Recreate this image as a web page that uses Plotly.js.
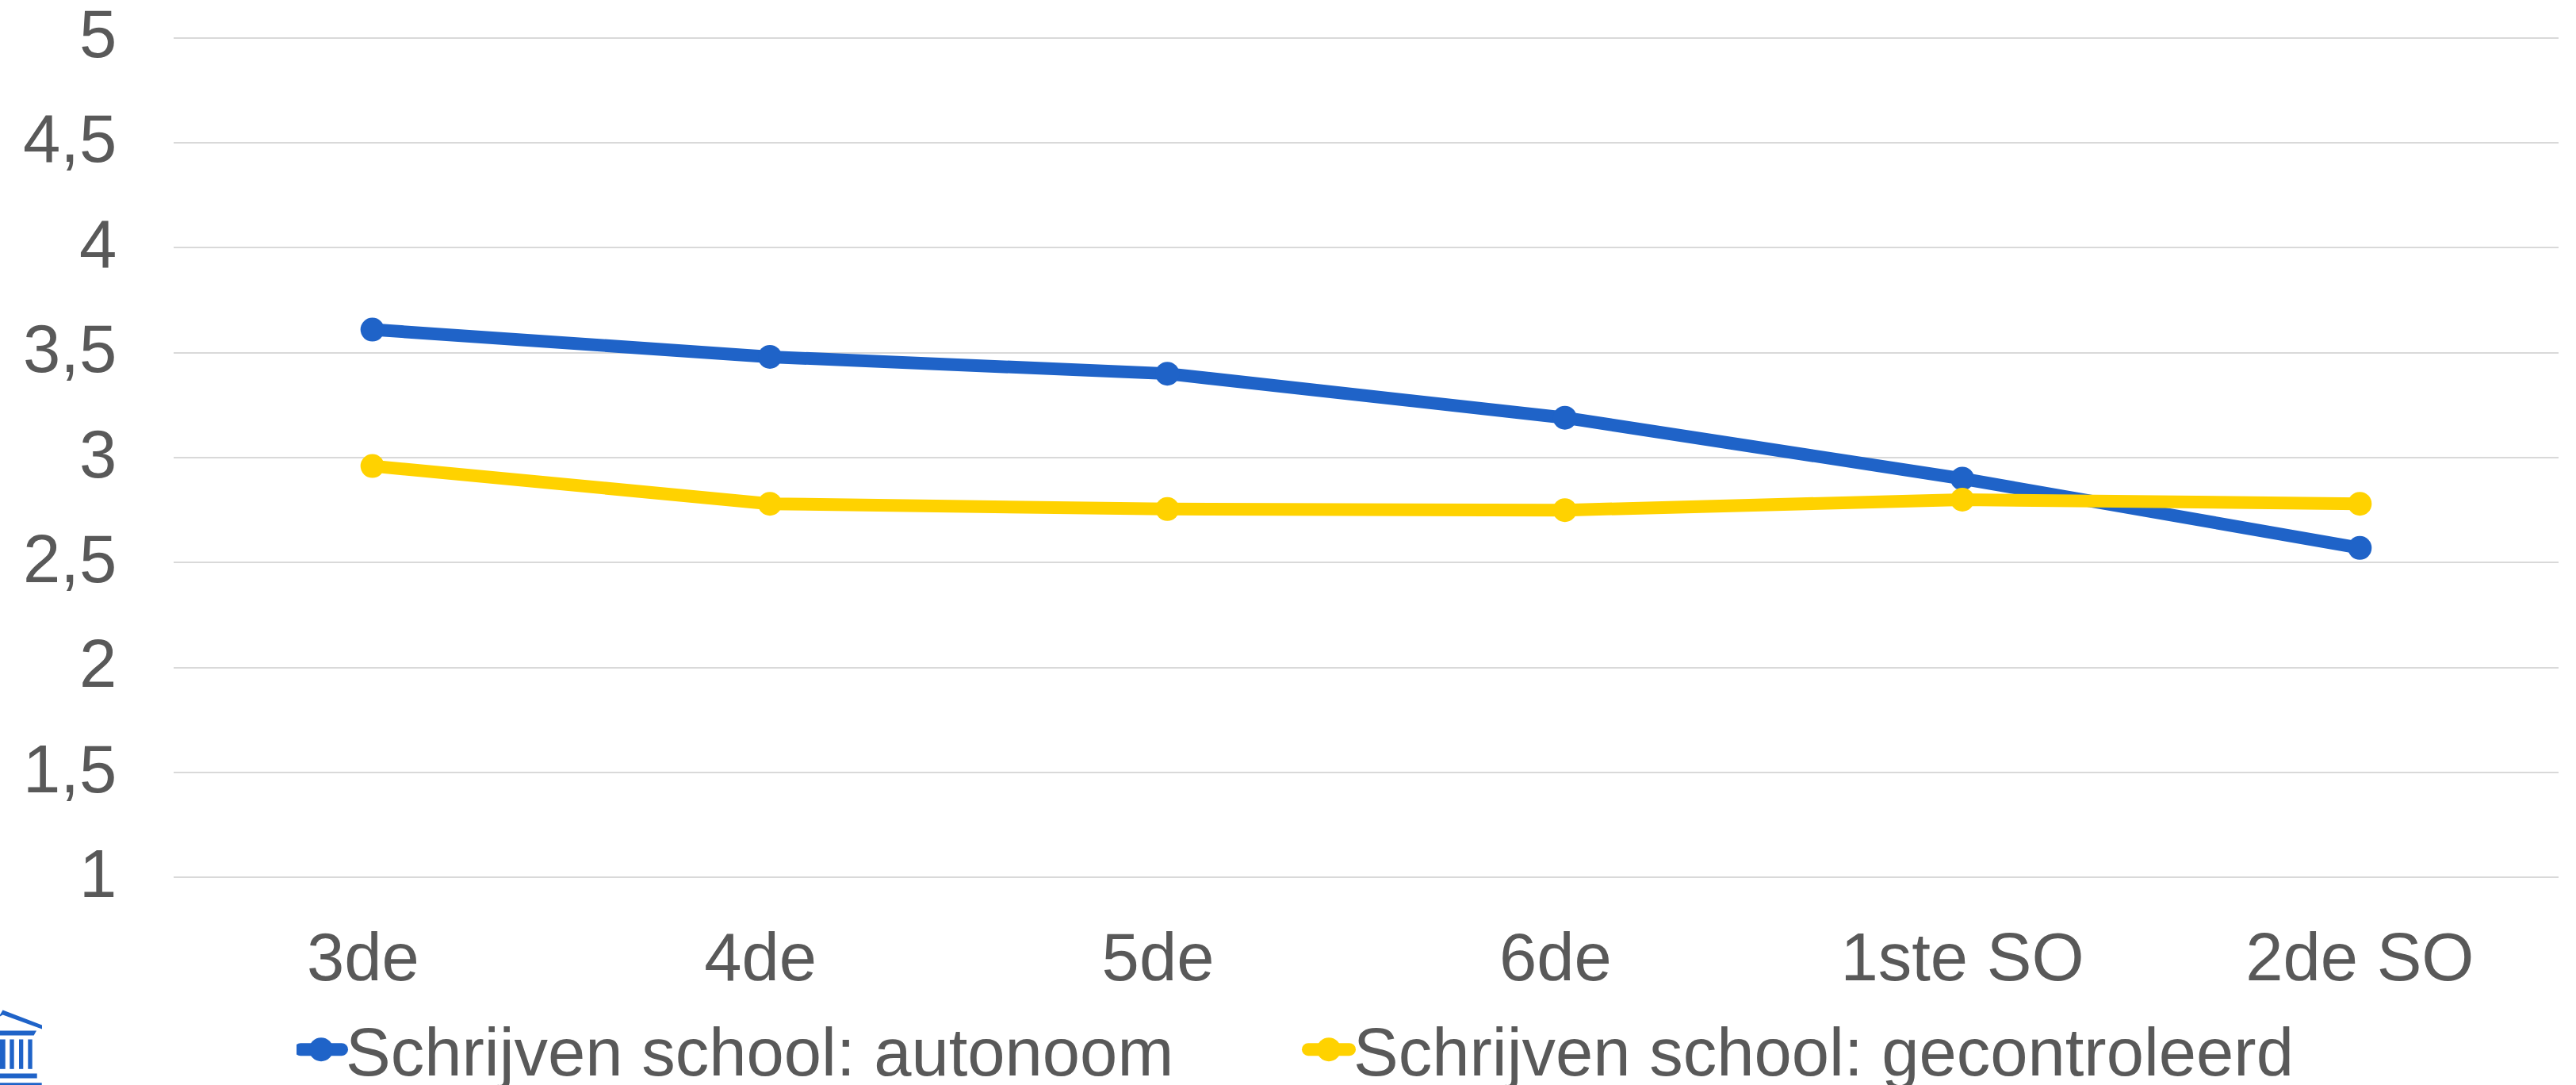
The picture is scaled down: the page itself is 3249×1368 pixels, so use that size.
<!DOCTYPE html>
<html><head><meta charset="utf-8">
<script src="https://cdn.plot.ly/plotly-3.0.1.min.js"></script>
<style>html,body{margin:0;padding:0;background:#fff;overflow:hidden}</style></head>
<body><div id="chart" style="width:3249px;height:1368px"></div>
<script>
const categories = ["3de","4de","5de","6de","1ste SO","2de SO"];
const xTickLabels = ["3de\u00A0","4de\u00A0","5de\u00A0","6de\u00A0","1ste SO","2de SO"];
const autonoom = [3.61,3.48,3.40,3.19,2.90,2.57];
const gecontroleerd = [2.96,2.78,2.755,2.75,2.80,2.78];
const yTicks = [1,1.5,2,2.5,3,3.5,4,4.5,5];
const yTickLabels = ["1","1,5","2","2,5","3","3,5","4","4,5","5"];
const seriesNames = ["Schrijven school: autonoom","Schrijven school: gecontroleerd"];
const colors = ["#1F63C8","#FFD200"];
const textColor = "#595959";
const font = "Liberation Sans, Arial, sans-serif";
const fs = 85;
const W=3249,H=1368,L=219,R=22,T=45.355,B=259.355;
const mk = (y,i)=>({type:"scatter",mode:"lines+markers",x:categories,y:y,name:seriesNames[i],
  line:{color:colors[i],width:16},marker:{color:colors[i],size:30},cliponaxis:false});
// logo at the bottom-left corner, in page pixels
const px = x=>(x-L)/(W-L-R), py = y=>(H-B-y)/(H-T-B);
const poly = pts=>({type:"path",xref:"paper",yref:"paper",layer:"above",fillcolor:colors[0],line:{width:0},
  path:"M"+pts.map(p=>px(p[0])+","+py(p[1])).join("L")+"Z"});
const rect = (a,b,c,d)=>poly([[a,b],[c,b],[c,d],[a,d]]);
const logo = [
  poly([[0,1279],[3.5,1273],[53,1292],[53,1297],[3.5,1279],[0,1281]]),
  poly([[0,1299],[46,1299],[42.7,1305],[0,1305]]),
  rect(0,1310,6.7,1347.3),rect(12.3,1310,17.7,1347.3),rect(24,1310,29.3,1347.3),rect(35.3,1310,40.7,1347.3),
  rect(0,1353,46.7,1359),rect(0,1364.7,52.7,1368)
];
// y labels sit slightly above their gridlines in the reference, so they are placed on the y scale with a small lift
const yLabels = yTicks.map((v,i)=>({xref:"paper",yref:"y",x:px(149),y:v,text:yTickLabels[i],showarrow:false,
  xanchor:"right",yanchor:"middle",yshift:5,font:{family:font,size:fs,color:textColor}}));
Plotly.newPlot("chart",[mk(autonoom,0),mk(gecontroleerd,1)],{
  width:W,height:H,paper_bgcolor:"#fff",plot_bgcolor:"#fff",showlegend:true,shapes:logo,annotations:yLabels,
  margin:{l:L,r:R,t:T,b:B,autoexpand:false},
  font:{family:font,size:fs,color:textColor},
  xaxis:{type:"category",range:[-0.5,5.5],showgrid:false,zeroline:false,showline:false,ticks:"",ticklabelstandoff:41,
    tickmode:"array",tickvals:categories,ticktext:xTickLabels,
    tickfont:{family:font,size:fs,color:textColor},automargin:false},
  yaxis:{range:[0.99,5.01],tickmode:"array",tickvals:yTicks,ticktext:yTickLabels,showticklabels:false,showgrid:true,gridcolor:"#D9D9D9",gridwidth:2,
    zeroline:false,showline:false,ticks:"",automargin:false},
  legend:{orientation:"h",x:px(374),xref:"paper",xanchor:"left",y:py(1261),yanchor:"top",itemwidth:52,entrywidth:1204,entrywidthmode:"pixels",
    bgcolor:"rgba(0,0,0,0)",font:{family:font,size:fs,color:textColor},traceorder:"normal"}
},{staticPlot:true,displayModeBar:false}).then(gd=>{
  // Plotly caps legend glyph sizes; enlarge them to match the chart's own line and marker weights
  gd.querySelectorAll(".legend .legendlines path").forEach(p=>{p.style.strokeWidth="16px";p.style.strokeLinecap="round";});
  gd.querySelectorAll(".legend .legendpoints path").forEach(p=>{
    p.setAttribute("d","M15,0A15,15 0 1,1 0,-15A15,15 0 0,1 15,0Z");
    p.style.strokeWidth="0";
  });
});
</script></body></html>
